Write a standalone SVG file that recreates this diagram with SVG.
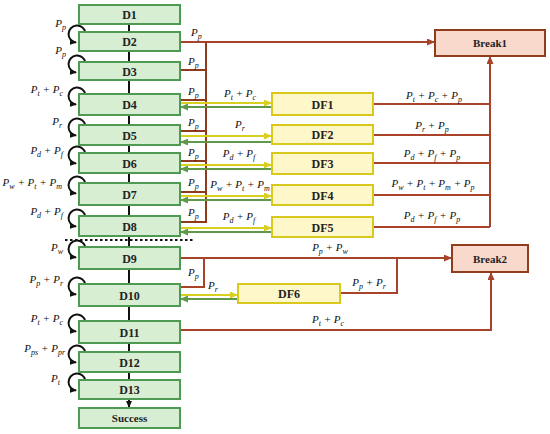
<svg xmlns="http://www.w3.org/2000/svg" width="550" height="434" viewBox="0 0 550 434">
<style>
.d{fill:#d7eed2;stroke:#4f9a52;stroke-width:2}
.df{fill:#fdf7c9;stroke:#d9c91f;stroke-width:2}
.bk{fill:#f9d9cc;stroke:#8f3d1c;stroke-width:2}
.nt{font-family:"Liberation Serif",serif;font-weight:bold;font-size:12px;fill:#222;text-anchor:middle}
.lb{font-family:"Liberation Serif",serif;font-style:italic;font-size:11px;fill:#111}
.s{font-size:8px}
.r{fill:none;stroke:#a8432a;stroke-width:2}
.rp{fill:none;stroke:#8f3b1e;stroke-width:2}
.y{fill:none;stroke:#d8cf1e;stroke-width:2}
.g{fill:none;stroke:#5e9a4a;stroke-width:2}
.k{fill:none;stroke:#111;stroke-width:2}
</style>
<defs>
<marker id="ar" markerUnits="userSpaceOnUse" markerWidth="8" markerHeight="7" refX="7" refY="3.5" orient="auto"><path d="M0,0 L8,3.5 L0,7 z" fill="#a8432a"/></marker>
<marker id="ay" markerUnits="userSpaceOnUse" markerWidth="8" markerHeight="7" refX="7" refY="3.5" orient="auto"><path d="M0,0 L8,3.5 L0,7 z" fill="#d8cf1e"/></marker>
<marker id="ag" markerUnits="userSpaceOnUse" markerWidth="8" markerHeight="7" refX="7" refY="3.5" orient="auto"><path d="M0,0 L8,3.5 L0,7 z" fill="#5e9a4a"/></marker>
<marker id="ak" markerUnits="userSpaceOnUse" markerWidth="7" markerHeight="6" refX="6" refY="3" orient="auto"><path d="M0,0 L7,3 L0,6 z" fill="#111"/></marker>
</defs>

<g id="spine">
<line x1="129" y1="24" x2="129" y2="399" stroke="#111" stroke-width="2"/>
<line x1="129" y1="399" x2="129" y2="407" stroke="#111" stroke-width="2" marker-end="url(#ak)"/>
<line x1="65" y1="240" x2="194" y2="240" stroke="#111" stroke-width="2" stroke-dasharray="2.5 2.5"/>
</g>

<g id="connectors">
<path class="r" d="M180 42 H434" marker-end="url(#ar)"/>
<path class="rp" d="M180 70 H206 M180 100 H206 M180 131 H206 M180 161 H206 M180 192 H206 M180 222 H206 V42"/>
<path class="y" d="M180 103 H271" marker-end="url(#ay)"/>
<path class="g" d="M272 107 H181" marker-end="url(#ag)"/>
<path class="y" d="M180 136 H271" marker-end="url(#ay)"/>
<path class="g" d="M272 142 H181" marker-end="url(#ag)"/>
<path class="y" d="M180 165 H271" marker-end="url(#ay)"/>
<path class="g" d="M272 169 H181" marker-end="url(#ag)"/>
<path class="y" d="M180 196 H271" marker-end="url(#ay)"/>
<path class="g" d="M272 200 H181" marker-end="url(#ag)"/>
<path class="y" d="M180 228 H271" marker-end="url(#ay)"/>
<path class="g" d="M272 232 H181" marker-end="url(#ag)"/>
<path class="y" d="M180 295 H237" marker-end="url(#ay)"/>
<path class="g" d="M238 299 H181" marker-end="url(#ag)"/>
<path class="r" d="M373 104 H490 M373 135 H490 M373 163 H490 M373 195 H490 M373 227 H490"/>
<path class="r" d="M490 227 V57" marker-end="url(#ar)"/>
<path class="r" d="M180 258 H451" marker-end="url(#ar)"/>
<path class="r" d="M180 287 H204 V258"/>
<path class="r" d="M340 293 H397 V258"/>
<path class="r" d="M180 330 H491 V273" marker-end="url(#ar)"/>
<path class="k" marker-end="url(#ak)" d="M85.4 32.5 A8.5 8.5 0 1 0 76 42.5"/>
<path class="k" marker-end="url(#ak)" d="M85.4 62.5 A8.5 8.5 0 1 0 76 72.5"/>
<path class="k" marker-end="url(#ak)" d="M85.4 94.5 A8.5 8.5 0 1 0 76 104.5"/>
<path class="k" marker-end="url(#ak)" d="M85.4 125.5 A8.5 8.5 0 1 0 76 135.5"/>
<path class="k" marker-end="url(#ak)" d="M85.4 153.5 A8.5 8.5 0 1 0 76 163.5"/>
<path class="k" marker-end="url(#ak)" d="M85.4 183.5 A8.5 8.5 0 1 0 76 193.5"/>
<path class="k" marker-end="url(#ak)" d="M85.4 216.5 A8.5 8.5 0 1 0 76 226.5"/>
<path class="k" marker-end="url(#ak)" d="M85.4 247.5 A8.5 8.5 0 1 0 76 257.5"/>
<path class="k" marker-end="url(#ak)" d="M85.4 284.5 A8.5 8.5 0 1 0 76 294.5"/>
<path class="k" marker-end="url(#ak)" d="M85.4 321.5 A8.5 8.5 0 1 0 76 331.5"/>
<path class="k" marker-end="url(#ak)" d="M85.4 352.5 A8.5 8.5 0 1 0 76 362.5"/>
<path class="k" marker-end="url(#ak)" d="M85.4 380.5 A8.5 8.5 0 1 0 76 390.5"/>
</g>

<g id="D1"><rect class="d" x="79" y="5" width="101" height="19"/><text class="nt" x="129.5" y="19">D1</text></g>
<g id="D2"><rect class="d" x="79" y="32" width="101" height="19"/><text class="nt" x="129.5" y="46">D2</text></g>
<g id="D3"><rect class="d" x="79" y="62" width="101" height="18"/><text class="nt" x="129.5" y="75.5">D3</text></g>
<g id="D4"><rect class="d" x="79" y="94" width="101" height="21"/><text class="nt" x="129.5" y="109">D4</text></g>
<g id="D5"><rect class="d" x="79" y="125" width="101" height="20"/><text class="nt" x="129.5" y="139.5">D5</text></g>
<g id="D6"><rect class="d" x="79" y="153" width="101" height="20"/><text class="nt" x="129.5" y="167.5">D6</text></g>
<g id="D7"><rect class="d" x="79" y="183" width="101" height="22"/><text class="nt" x="129.5" y="198.5">D7</text></g>
<g id="D8"><rect class="d" x="79" y="216" width="101" height="20"/><text class="nt" x="129.5" y="230.5">D8</text></g>
<g id="D9"><rect class="d" x="79" y="247" width="101" height="22"/><text class="nt" x="129.5" y="262.5">D9</text></g>
<g id="D10"><rect class="d" x="79" y="284" width="101" height="22"/><text class="nt" x="129.5" y="299.5">D10</text></g>
<g id="D11"><rect class="d" x="79" y="321" width="101" height="22"/><text class="nt" x="129.5" y="336.5">D11</text></g>
<g id="D12"><rect class="d" x="79" y="352" width="101" height="20"/><text class="nt" x="129.5" y="366.5">D12</text></g>
<g id="D13"><rect class="d" x="79" y="380" width="101" height="19"/><text class="nt" x="129.5" y="394">D13</text></g>
<g id="Success"><rect class="d" x="79" y="408" width="101" height="20"/><text class="nt" x="129.5" y="422" style="font-size:11px">Success</text></g>

<g id="DF1"><rect class="df" x="272" y="93" width="101" height="22"/><text class="nt" x="322.5" y="108.5">DF1</text></g>
<g id="DF2"><rect class="df" x="272" y="125" width="101" height="19"/><text class="nt" x="322.5" y="139">DF2</text></g>
<g id="DF3"><rect class="df" x="272" y="153" width="101" height="21"/><text class="nt" x="322.5" y="168">DF3</text></g>
<g id="DF4"><rect class="df" x="272" y="185" width="101" height="20"/><text class="nt" x="322.5" y="199.5">DF4</text></g>
<g id="DF5"><rect class="df" x="272" y="217" width="101" height="20"/><text class="nt" x="322.5" y="231.5">DF5</text></g>
<g id="DF6"><rect class="df" x="238" y="284" width="102" height="19"/><text class="nt" x="289" y="298">DF6</text></g>

<g id="Break1"><rect class="bk" x="435" y="30" width="110" height="26"/><text class="nt" x="490" y="47" style="font-size:11px">Break1</text></g>
<g id="Break2"><rect class="bk" x="452" y="245" width="76" height="27"/><text class="nt" x="490" y="262.5" style="font-size:11px">Break2</text></g>

<g id="labels" class="lb">
<text x="66" y="27" text-anchor="end">P<tspan class="s" dy="3">p</tspan></text>
<text x="66" y="54" text-anchor="end">P<tspan class="s" dy="3">p</tspan></text>
<text x="63" y="93" text-anchor="end">P<tspan class="s" dy="3">t</tspan><tspan dy="-3"> + P</tspan><tspan class="s" dy="3">c</tspan></text>
<text x="62" y="125" text-anchor="end">P<tspan class="s" dy="3">r</tspan></text>
<text x="63" y="154" text-anchor="end">P<tspan class="s" dy="3">d</tspan><tspan dy="-3"> + P</tspan><tspan class="s" dy="3">f</tspan></text>
<text x="62" y="186" text-anchor="end">P<tspan class="s" dy="3">w</tspan><tspan dy="-3"> + P</tspan><tspan class="s" dy="3">t</tspan><tspan dy="-3"> + P</tspan><tspan class="s" dy="3">m</tspan></text>
<text x="63" y="215" text-anchor="end">P<tspan class="s" dy="3">d</tspan><tspan dy="-3"> + P</tspan><tspan class="s" dy="3">f</tspan></text>
<text x="63" y="251" text-anchor="end">P<tspan class="s" dy="3">w</tspan></text>
<text x="63" y="283" text-anchor="end">P<tspan class="s" dy="3">p</tspan><tspan dy="-3"> + P</tspan><tspan class="s" dy="3">r</tspan></text>
<text x="63" y="322" text-anchor="end">P<tspan class="s" dy="3">t</tspan><tspan dy="-3"> + P</tspan><tspan class="s" dy="3">c</tspan></text>
<text x="65" y="352" text-anchor="end">P<tspan class="s" dy="3">ps</tspan><tspan dy="-3"> + P</tspan><tspan class="s" dy="3">pr</tspan></text>
<text x="60" y="382" text-anchor="end">P<tspan class="s" dy="3">t</tspan></text>
<text x="191" y="36">P<tspan class="s" dy="3">p</tspan></text>
<text x="188" y="65">P<tspan class="s" dy="3">p</tspan></text>
<text x="188" y="95">P<tspan class="s" dy="3">p</tspan></text>
<text x="188" y="126">P<tspan class="s" dy="3">p</tspan></text>
<text x="188" y="156">P<tspan class="s" dy="3">p</tspan></text>
<text x="188" y="186">P<tspan class="s" dy="3">p</tspan></text>
<text x="188" y="216">P<tspan class="s" dy="3">p</tspan></text>
<text x="188" y="276">P<tspan class="s" dy="3">p</tspan></text>
<text x="240" y="97" text-anchor="middle">P<tspan class="s" dy="3">t</tspan><tspan dy="-3"> + P</tspan><tspan class="s" dy="3">c</tspan></text>
<text x="240" y="128" text-anchor="middle">P<tspan class="s" dy="3">r</tspan></text>
<text x="239" y="157" text-anchor="middle">P<tspan class="s" dy="3">d</tspan><tspan dy="-3"> + P</tspan><tspan class="s" dy="3">f</tspan></text>
<text x="240" y="188" text-anchor="middle">P<tspan class="s" dy="3">w</tspan><tspan dy="-3"> + P</tspan><tspan class="s" dy="3">t</tspan><tspan dy="-3"> + P</tspan><tspan class="s" dy="3">m</tspan></text>
<text x="239" y="220" text-anchor="middle">P<tspan class="s" dy="3">d</tspan><tspan dy="-3"> + P</tspan><tspan class="s" dy="3">f</tspan></text>
<text x="213" y="289" text-anchor="middle">P<tspan class="s" dy="3">r</tspan></text>
<text x="434" y="99" text-anchor="middle">P<tspan class="s" dy="3">t</tspan><tspan dy="-3"> + P</tspan><tspan class="s" dy="3">c</tspan><tspan dy="-3"> + P</tspan><tspan class="s" dy="3">p</tspan></text>
<text x="432" y="129" text-anchor="middle">P<tspan class="s" dy="3">r</tspan><tspan dy="-3"> + P</tspan><tspan class="s" dy="3">p</tspan></text>
<text x="432" y="157" text-anchor="middle">P<tspan class="s" dy="3">d</tspan><tspan dy="-3"> + P</tspan><tspan class="s" dy="3">f</tspan><tspan dy="-3"> + P</tspan><tspan class="s" dy="3">p</tspan></text>
<text x="433" y="187" text-anchor="middle">P<tspan class="s" dy="3">w</tspan><tspan dy="-3"> + P</tspan><tspan class="s" dy="3">t</tspan><tspan dy="-3"> + P</tspan><tspan class="s" dy="3">m</tspan><tspan dy="-3"> + P</tspan><tspan class="s" dy="3">p</tspan></text>
<text x="432" y="219" text-anchor="middle">P<tspan class="s" dy="3">d</tspan><tspan dy="-3"> + P</tspan><tspan class="s" dy="3">f</tspan><tspan dy="-3"> + P</tspan><tspan class="s" dy="3">p</tspan></text>
<text x="330" y="251" text-anchor="middle">P<tspan class="s" dy="3">p</tspan><tspan dy="-3"> + P</tspan><tspan class="s" dy="3">w</tspan></text>
<text x="369" y="286" text-anchor="middle">P<tspan class="s" dy="3">p</tspan><tspan dy="-3"> + P</tspan><tspan class="s" dy="3">r</tspan></text>
<text x="328" y="323" text-anchor="middle">P<tspan class="s" dy="3">t</tspan><tspan dy="-3"> + P</tspan><tspan class="s" dy="3">c</tspan></text>
</g>
</svg>
